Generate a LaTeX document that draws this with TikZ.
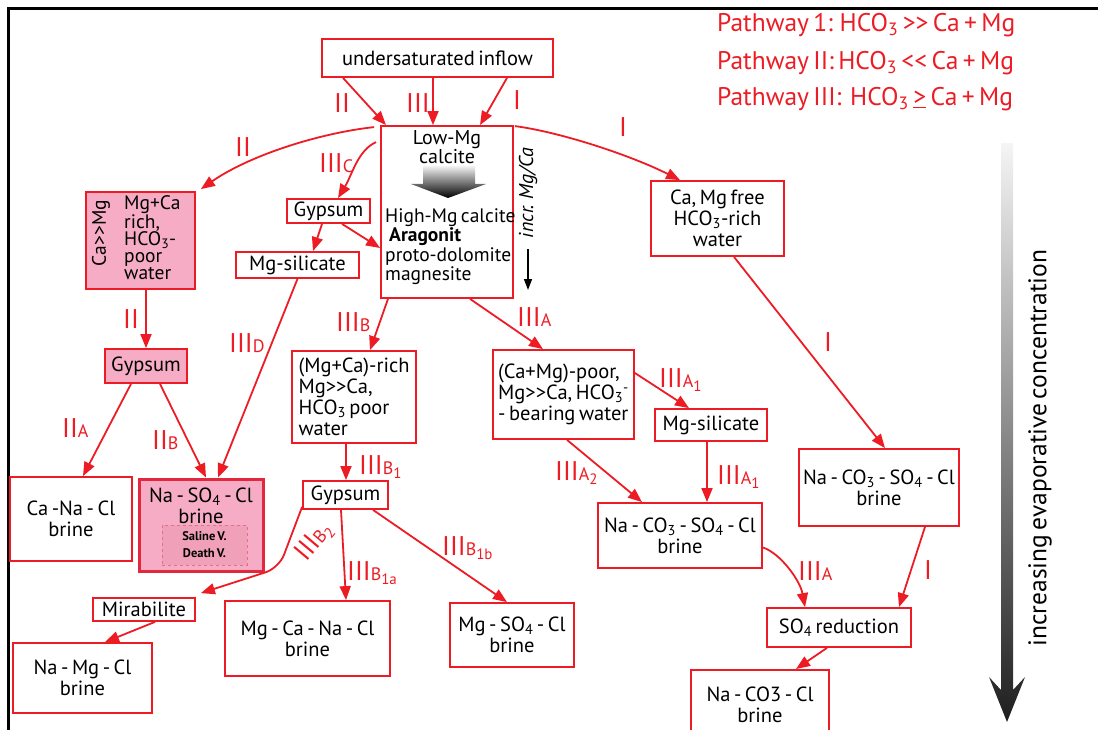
\documentclass[tikz,border=0pt]{standalone}
\usepackage{fontspec}
\setmainfont{PT Sans}[WordSpace=0.65]
\usepackage{tikz}
\usetikzlibrary{arrows.meta,calc}

\definecolor{pwred}{RGB}{237,28,36}
\definecolor{pinkfill}{RGB}{246,172,197}
\definecolor{saltred}{RGB}{225,40,62}
\definecolor{innerpink}{RGB}{241,160,186}
\definecolor{innerred}{RGB}{228,110,140}
\newcommand{\sublet}[1]{{\fontsize{18}{18}\selectfont #1}}
\newcommand{\subnum}[1]{\raisebox{-4pt}{\fontsize{15}{15}\selectfont #1}}
\newcommand{\much}[1]{#1\kern0pt#1}

\begin{document}
\begin{tikzpicture}[x=1pt,y=-1pt,
		box/.style={draw=pwred,line width=1.8pt,fill=white,inner sep=0pt,align=center,font=\fontsize{20.5}{21}\selectfont},
		txt/.style={inner sep=0pt,align=left,font=\fontsize{19.5}{19.5}\selectfont},
		lbl/.style={text=pwred,inner sep=0pt,font=\fontsize{27}{27}\selectfont},
		legend/.style={text=pwred,inner sep=0pt,anchor=west,font=\fontsize{25.5}{25.5}\selectfont},
		flow/.style={draw=pwred,line width=1.8pt,-{Triangle[length=14pt,width=11pt]}}]
		\useasboundingbox (0,0) rectangle (1098,730);
		\draw[line width=3pt] (8,730) -- (8,9) -- (1098,9);
		
		\node[legend] (leg1) at (717,25) {Pathway 1: HCO\textsubscript{3} \much{>} Ca + Mg};
		\node[legend] (leg2) at (717,63) {Pathway II: HCO\textsubscript{3} \much{<} Ca + Mg};
		\node[legend] (leg3) at (717,99) {Pathway III:~ HCO\textsubscript{3} \underline{>} Ca + Mg};
		
		\node[box,minimum width=231,minimum height=38] (inflow) at (437.5,58) {undersaturated inflow};
		\node[box,minimum width=132,minimum height=172] (lowmg) at (447,212) {};
		\node[txt,align=center,font=\fontsize{20}{18.5}\selectfont] (lowtxt) at (447,147) {Low-Mg\\calcite};
		\shade[top color=black!5,bottom color=black] (423,166) -- (475,166) -- (475,184) -- (486,184) -- (448,198) -- (411,184) -- (423,184) -- cycle;
		\node[txt,anchor=west] (hightxt) at (385,246.5) {High-Mg calcite\\\hspace{4pt}\textbf{Aragonit}\\proto-dolomite\\magnesite};
		\node[inner sep=0pt,rotate=90,font=\itshape\fontsize{20}{20}\selectfont] (incr) at (528,193) {incr. Mg/Ca};
		\coordinate (incrend) at (528,290);
		\draw[line width=1.5pt,-{Triangle[length=11pt,width=8pt]}] ($(incr.west)+(0,11)$) -- (incrend);
		
		\node[box,minimum width=133,minimum height=75] (camgfree) at (717.5,218.5) {Ca, Mg free\\HCO\textsubscript{3}-rich\\water};
		
		\node[box,fill=pinkfill,minimum width=109,minimum height=97] (camg) at (140.5,240.5) {};
		\node[inner sep=0pt,rotate=90,font=\fontsize{19.5}{19.5}\selectfont] (camgratio) at (101,233) {Ca\much{>}Mg};
		\node[txt,anchor=west,font=\fontsize{19.5}{17}\selectfont] (camgtxt) at (124,238) {Mg+Ca\\rich,\\HCO\textsubscript{3}-\\poor\\water};
		
		\node[box,minimum width=83,minimum height=24] (gypc) at (328.5,211) {Gypsum};
		\node[box,minimum width=123,minimum height=26] (msill) at (297.5,265) {Mg-silicate};
		\node[box,fill=pinkfill,minimum width=82,minimum height=34] (gypii) at (146,366) {Gypsum};
		\node[box,minimum width=122,minimum height=84] (canacl) at (71,519) {Ca -Na - Cl\\brine};
		\node[box,fill=pinkfill,draw=saltred,line width=3pt,minimum width=124,minimum height=92] (naso4) at (201,525) {};
		\node[txt,align=center,font=\fontsize{20.5}{21}\selectfont] (naso4txt) at (201,506) {Na - SO\textsubscript{4} - Cl\\brine};
		\node[draw=innerred,dashed,fill=innerpink,line width=1pt,minimum width=85,minimum height=40,inner sep=0pt,align=center,font=\bfseries\fontsize{12.5}{17}\selectfont] (valley) at (204.5,545) {Saline V.\\Death V.};
		\node[box,minimum width=102,minimum height=23] (mirab) at (144,609.5) {Mirabilite};
		\node[box,minimum width=139,minimum height=70] (namgcl) at (82.5,678) {Na - Mg - Cl\\brine};
		
		\node[box,align=left,minimum width=124,minimum height=92] (mgcarich) at (354,397) {(Mg+Ca)-rich\\Mg\much{>}Ca,\\HCO\textsubscript{3} poor\\water};
		\node[box,minimum width=85,minimum height=28] (gypb) at (345.5,495) {Gypsum};
		\node[box,minimum width=165,minimum height=75] (mgcanacl) at (307.5,638.5) {Mg - Ca - Na - Cl\\brine};
		\node[box,minimum width=124,minimum height=64] (mgso4cl) at (512,635) {Mg - SO\textsubscript{4} - Cl\\brine};
		
		\node[box,align=left,minimum width=141,minimum height=89] (camgpoor) at (563.5,394.5) {(Ca+Mg)-poor,\\Mg\much{>}Ca, HCO\textsubscript{3}\textsuperscript{-}\\- bearing water};
		\node[box,minimum width=112,minimum height=32] (msilr) at (711,425) {Mg-silicate};
		\node[box,minimum width=164,minimum height=65] (naco3a) at (680,535.5) {Na - CO\textsubscript{3} - SO\textsubscript{4} - Cl\\brine};
		\node[box,minimum width=160,minimum height=77] (naco3b) at (879,487.5) {Na - CO\textsubscript{3} - SO\textsubscript{4} - Cl\\brine};
		\node[box,minimum width=144,minimum height=39] (so4red) at (839,627.5) {SO\textsubscript{4} reduction};
		\node[box,anchor=north,minimum width=138,minimum height=70] (naco3cl) at (760,669) {Na - CO3 - Cl\\brine};
		
		\shade[top color=black!4,bottom color=black!88] (1001,143) -- (1013,143) -- (1013,690) -- (1025,677) -- (1007,722) -- (989,677) -- (1001,690) -- cycle;
		\node[inner sep=0pt,rotate=90,font=\fontsize{25.5}{25.5}\selectfont] (evap) at (1040,448) {increasing evaporative concentration};
		
		\draw[flow] (343,0 |- inflow.south) -- (386,0 |- lowmg.north);
		\draw[flow] (433,0 |- inflow.south) -- (433,0 |- lowmg.north);
		\draw[flow] (507,0 |- inflow.south) -- (480,0 |- lowmg.north);
		\draw[flow] ($(lowmg.north west)+(-6,2)$) .. controls (320,133) and (250,155) .. ($(camg.north east)+(5,-2)$);
		\draw[flow] ($(lowmg.north west)+(-4,17)$) .. controls (358,150) and (352,175) .. (338,0 |- gypc.north);
		\draw[flow] ($(lowmg.north east)+(1,1)$) .. controls (560,132) and (630,155) .. (680,0 |- camgfree.north);
		\draw[flow] (322,0 |- gypc.south) -- (313,0 |- msill.north);
		\draw[flow] (342,0 |- gypc.south) -- (lowmg.west |- 0,248);
		\draw[flow] (gypii.north |- camg.south) -- (gypii.north);
		\draw[flow] (msill.south) -- (218,0 |- naso4.north);
		\draw[flow] (131,0 |- gypii.south) -- (83,0 |- canacl.north);
		\draw[flow] (160,0 |- gypii.south) -- (206,0 |- naso4.north);
		\draw[flow] (388,0 |- lowmg.south) -- (370,0 |- mgcarich.north);
		\draw[flow] (470,0 |- lowmg.south) -- (543,0 |- camgpoor.north);
		\draw[flow] (346,0 |- mgcarich.south) -- (346,0 |- gypb.north);
		\draw[flow] (341,0 |- gypb.south) -- (346,0 |- mgcanacl.north);
		\draw[flow] (373,0 |- gypb.south) -- (507,0 |- mgso4cl.north);
		\coordinate (bend) at (279,568);
		\draw[flow,rounded corners=14] ($(gypb.south west)+(0,-3)$) -- (bend) -- ($(mirab.north east)+(5,-4)$);
		\draw[flow] (155,0 |- mirab.south) -- (105,0 |- namgcl.north);
		\draw[flow] (camgpoor.east |- 0,373) -- (689,0 |- msilr.north);
		\draw[flow] (567,0 |- camgpoor.south) -- (642,0 |- naco3a.north);
		\draw[flow] (707,0 |- msilr.south) -- (707,0 |- naco3a.north);
		\draw[flow] (734,0 |- camgfree.south) -- (885,0 |- naco3b.north);
		\draw[flow] ($(naco3a.east)+(0,12)$) .. controls (780,553) and (800,580) .. (805,0 |- so4red.north);
		\draw[flow] (925,0 |- naco3b.south) -- (899,0 |- so4red.north);
		\draw[flow] (827,0 |- so4red.south) -- (796,0 |- naco3cl.north);
		
		\node[lbl] (pii) at (342,103) {II};
		\node[lbl] (piii) at (418,103) {III};
		\node[lbl] (pi) at (517,100) {I};
		\node[lbl] (pii2) at (243,147) {II};
		\node[lbl,anchor=west] (piiic) at (319,163) {III\sublet{C}};
		\node[lbl] (pi2) at (623,127) {I};
		\node[lbl] (pii3) at (131,319) {II};
		\node[lbl,anchor=west] (piiid) at (229,343) {III\sublet{D}};
		\node[lbl,anchor=west] (piia) at (62,428) {II\sublet{A}};
		\node[lbl,anchor=west] (piib) at (152,440) {II\sublet{B}};
		\node[lbl,anchor=west] (piiib) at (336,322) {III\sublet{B}};
		\node[lbl,anchor=west] (piiia) at (517,317) {III\sublet{A}};
		\node[lbl,anchor=west] (piiib1) at (359,467) {III\sublet{B}\subnum{1}};
		\node[lbl,anchor=west] (piiib1a) at (347,573) {III\sublet{B}\subnum{1a}};
		\node[lbl,anchor=west] (piiib1b) at (442,548) {III\sublet{B}\subnum{1b}};
		\node[lbl,rotate=50] (piiib2) at (314,542) {III\sublet{B}\subnum{2}};
		\node[lbl,anchor=west] (piiia1) at (659,380) {III\sublet{A}\subnum{1}};
		\node[lbl,anchor=west] (piiia2) at (555,473) {III\sublet{A}\subnum{2}};
		\node[lbl,anchor=west] (piiia1b) at (717,477) {III\sublet{A}\subnum{1}};
		\node[lbl] (pi3) at (828,342) {I};
		\node[lbl,anchor=west] (piiia3) at (798,571) {III\sublet{A}};
		\node[lbl] (pi4) at (928,570) {I};
	\end{tikzpicture}
\end{document}
